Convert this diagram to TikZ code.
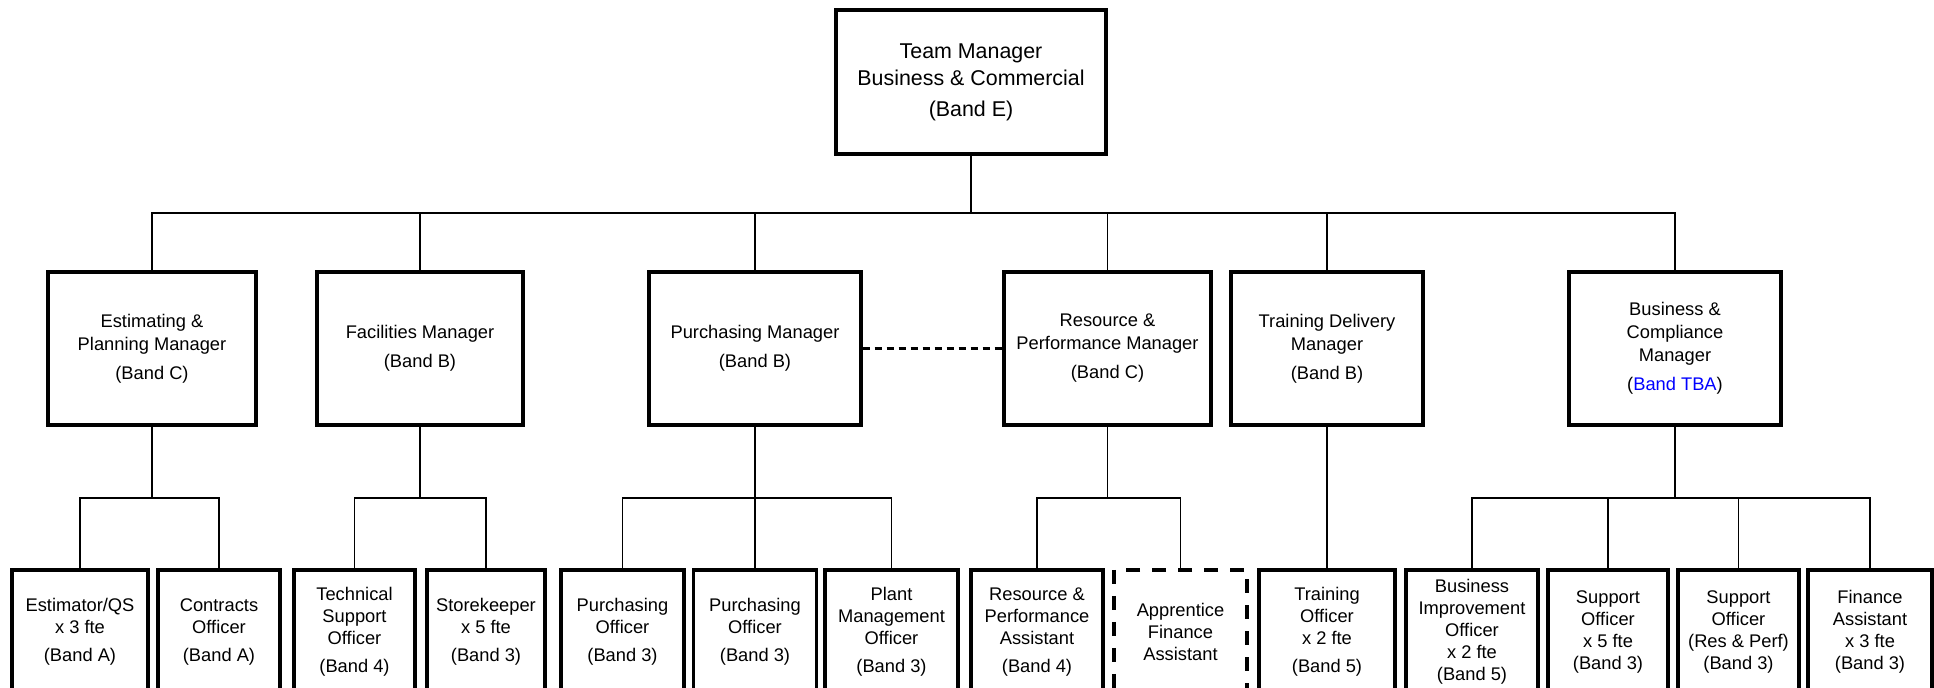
\documentclass[tikz,border=0pt]{standalone}
\usepackage{fontspec}
\setmainfont{Liberation Sans}
\begin{document}
\begin{tikzpicture}[x=0.5pt,y=-0.5pt,
  box/.style={draw, line width=1.7pt, inner sep=0pt, align=center},
  topbox/.style={box, font=\fontsize{10.7}{13.5}\selectfont},
  mgr/.style={box, minimum height=76.5pt, font=\fontsize{9.15}{11.4}\selectfont},
  staff/.style={box, minimum height=62pt, font=\fontsize{9.15}{11}\selectfont},
  conn/.style={line width=0.9pt},
  dotline/.style={line width=1.1pt, dash pattern=on 3.5pt off 2.5pt},
  dashbox/.style={dash pattern=on 7pt off 6pt}]
\useasboundingbox (0,0) rectangle (1934,688);

% top
\node[topbox, minimum width=135pt, minimum height=72pt] (top) at (971,82)
  {Team Manager\\Business \& Commercial\\[2pt](Band E)};

% managers
\node[mgr, minimum width=104pt] (est) at (152,348.5) {Estimating \&\\Planning Manager\\[3.2pt](Band C)};
\node[mgr, minimum width=103pt] (fac) at (420,348.5) {Facilities Manager\\[3.2pt](Band B)};
\node[mgr, minimum width=106pt] (pur) at (755,348.5) {Purchasing Manager\\[3.2pt](Band B)};
\node[mgr, minimum width=103.5pt] (rp) at (1107.5,348.5) {Resource \&\\Performance Manager\\[3.2pt](Band C)};
\node[mgr, minimum width=96pt] (tdm) at (1327,348.5) {Training Delivery\\Manager\\[3.2pt](Band B)};
\node[mgr, minimum width=106pt] (bc) at (1675,348.5) {Business \&\\Compliance\\Manager\\[3.2pt](\textcolor{blue}{Band TBA})};

% staff
\node[staff, minimum width=68pt] (estqs) at (80,632) {Estimator/QS\\x 3 fte\\[3pt](Band A)};
\node[staff, minimum width=61pt] (contr) at (219,632) {Contracts\\Officer\\[3pt](Band A)};
\node[staff, minimum width=60.5pt] (tech) at (354.5,632) {Technical\\Support\\Officer\\[3pt](Band 4)};
\node[staff, minimum width=59pt] (store) at (486,632) {Storekeeper\\x 5 fte\\[3pt](Band 3)};
\node[staff, minimum width=61.5pt] (poa) at (622.5,632) {Purchasing\\Officer\\[3pt](Band 3)};
\node[staff, minimum width=61.5pt] (pob) at (755,632) {Purchasing\\Officer\\[3pt](Band 3)};
\node[staff, minimum width=66.5pt] (plant) at (891.5,632) {Plant\\Management\\Officer\\[3pt](Band 3)};
\node[staff, minimum width=66pt] (rpa) at (1037,632) {Resource \&\\Performance\\Assistant\\[3pt](Band 4)};
\node[staff, dashbox, minimum width=66.5pt] (appr) at (1180.5,632) {Apprentice\\Finance\\Assistant};
\node[staff, minimum width=68pt] (trn) at (1327,632) {Training\\Officer\\x 2 fte\\[3pt](Band 5)};
\node[staff, minimum width=66pt] (bio) at (1472,632) {Business\\Improvement\\Officer\\x 2 fte\\(Band 5)};
\node[staff, minimum width=60pt] (supa) at (1608,632) {Support\\Officer\\x 5 fte\\(Band 3)};
\node[staff, minimum width=60.5pt] (supb) at (1738.5,632) {Support\\Officer\\(Res \& Perf)\\(Band 3)};
\node[staff, minimum width=62pt] (fin) at (1870,632) {Finance\\Assistant\\x 3 fte\\(Band 3)};

% top connectors
\coordinate (bus0) at (971,213);
\draw[conn] (top.south) -- (bus0);
\draw[conn] (est.north) -- (est.north |- bus0) -- (bc.north |- bus0) -- (bc.north);
\foreach \n in {fac,pur,rp,tdm} \draw[conn] (\n.north) -- (\n.north |- bus0);

% dotted link
\draw[dotline] (pur.east) -- (rp.west);

% second level
\coordinate (bus1) at (0,498);
\draw[conn] (est.south) -- (est.south |- bus1);
\draw[conn] (estqs.north) -- (estqs.north |- bus1) -- (contr.north |- bus1) -- (contr.north);
\draw[conn] (fac.south) -- (fac.south |- bus1);
\draw[conn] (tech.north) -- (tech.north |- bus1) -- (store.north |- bus1) -- (store.north);
\draw[conn] (pur.south) -- (pob.north);
\draw[conn] (poa.north) -- (poa.north |- bus1) -- (plant.north |- bus1) -- (plant.north);
\draw[conn] (rp.south) -- (rp.south |- bus1);
\draw[conn] (rpa.north) -- (rpa.north |- bus1) -- (appr.north |- bus1) -- (appr.north);
\draw[conn] (tdm.south) -- (trn.north);
\draw[conn] (bc.south) -- (bc.south |- bus1);
\draw[conn] (bio.north) -- (bio.north |- bus1) -- (fin.north |- bus1) -- (fin.north);
\draw[conn] (supa.north) -- (supa.north |- bus1);
\draw[conn] (supb.north) -- (supb.north |- bus1);
\end{tikzpicture}
\end{document}
